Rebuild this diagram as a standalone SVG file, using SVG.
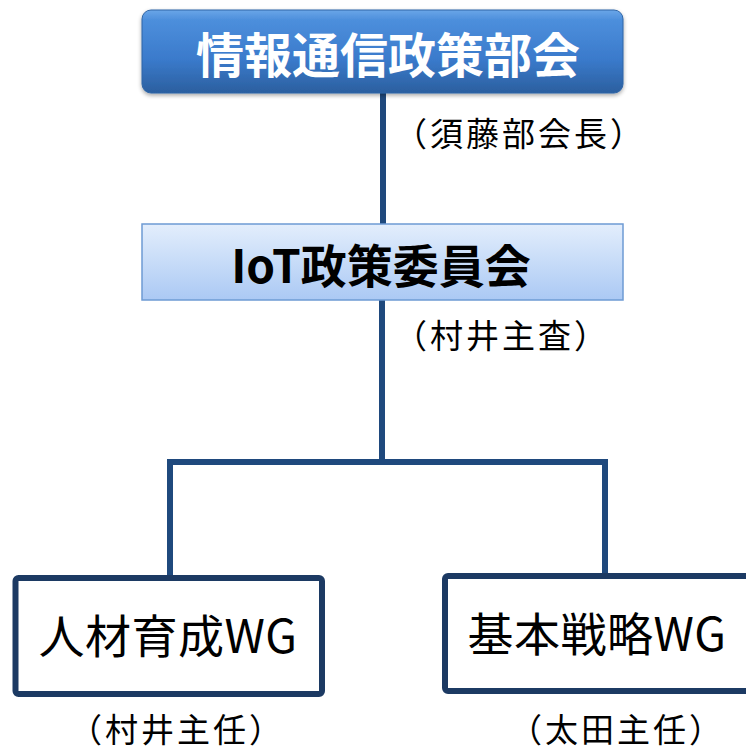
<svg xmlns="http://www.w3.org/2000/svg" width="746" height="749" viewBox="0 0 746 749">
<defs>
<linearGradient id="gTop" x1="0" y1="0" x2="0" y2="1">
<stop offset="0" stop-color="#6aa6e8"/>
<stop offset="0.12" stop-color="#4d8fdc"/>
<stop offset="0.6" stop-color="#3a7acb"/>
<stop offset="1" stop-color="#2b5f9f"/>
</linearGradient>
<linearGradient id="gMid" x1="0" y1="0" x2="0" y2="1">
<stop offset="0" stop-color="#e3eefc"/>
<stop offset="1" stop-color="#abc9f4"/>
</linearGradient>
<filter id="sh" x="-5%" y="-10%" width="110%" height="130%">
<feGaussianBlur in="SourceAlpha" stdDeviation="2"/>
<feOffset dy="2"/>
<feComponentTransfer><feFuncA type="linear" slope="0.35"/></feComponentTransfer>
<feMerge><feMergeNode/><feMergeNode in="SourceGraphic"/></feMerge>
</filter>
</defs>
<style>
.jp{font-family:"Noto Sans CJK JP","Noto Sans CJK SC",sans-serif;}
.conn{stroke:#1f497d;stroke-width:6;fill:none;stroke-linecap:butt;}
.wg{fill:#ffffff;stroke:#1c3a63;stroke-width:6;}
.wgt{font-size:46px;fill:#000;text-anchor:middle;letter-spacing:0.5px;}
.lbl{font-size:33px;fill:#000;text-anchor:middle;letter-spacing:3px;}
</style>
<g id="connectors">
<line class="conn" x1="383" y1="92" x2="383" y2="225"/>
<line class="conn" x1="382" y1="300" x2="382" y2="462"/>
<polyline class="conn" points="170,576 170,462 605,462 605,574"/>
</g>
<g id="node-bukai">
<rect x="142" y="10" width="481" height="83" rx="9" fill="url(#gTop)" stroke="#2f65a6" stroke-width="1" filter="url(#sh)"/>
<text class="jp" x="388" y="73" font-size="48" font-weight="bold" fill="#ffffff" text-anchor="middle">情報通信政策部会</text>
</g>
<g id="label-bukai">
<text class="jp lbl" x="520" y="146">（須藤部会長）</text>
</g>
<g id="node-iot">
<rect x="142" y="224" width="481" height="76" fill="url(#gMid)" stroke="#6e9bd4" stroke-width="1.5"/>
<text class="jp" x="381" y="283" font-size="46" font-weight="bold" fill="#000" text-anchor="middle">IoT政策委員会</text>
</g>
<g id="label-iot">
<text class="jp lbl" x="502" y="348">（村井主査）</text>
</g>
<g id="node-jinzai">
<rect class="wg" x="15.5" y="578" width="306.5" height="116" rx="3"/>
<text class="jp wgt" x="168" y="653">人材育成WG</text>
</g>
<g id="label-jinzai">
<text class="jp lbl" x="177" y="742">（村井主任）</text>
</g>
<g id="node-kihon">
<rect class="wg" x="445" y="576" width="330" height="115" rx="3"/>
<text class="jp wgt" x="597" y="651">基本戦略WG</text>
</g>
<g id="label-kihon">
<text class="jp lbl" x="617" y="742">（太田主任）</text>
</g>
</svg>
